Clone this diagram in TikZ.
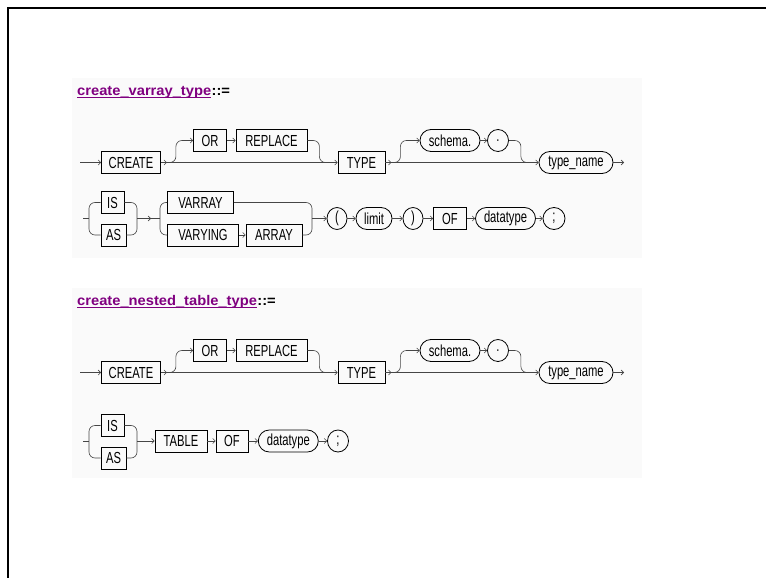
\documentclass[tikz,border=0pt]{standalone}
\usepackage{fontspec}
\usepackage{tikz}
\usetikzlibrary{arrows.meta,shapes.misc,shapes.geometric}
\newfontfamily\railfont[FakeStretch=0.7]{Liberation Sans}
\newfontfamily\headfont[FakeStretch=1.05]{Liberation Sans}
\definecolor{linkpurple}{RGB}{128,0,128}
\definecolor{railgray}{RGB}{70,70,70}

\begin{document}
\begin{tikzpicture}[
      x=1pt, y=-1pt,
      kw/.style={draw, rectangle, line width=0.8pt, minimum height=22pt, inner sep=0pt,
        font=\railfont\fontsize{16}{16}\selectfont},
      nt/.style={draw, rounded rectangle, line width=0.8pt, minimum height=22pt, inner sep=0pt,
        font=\railfont\fontsize{16}{16}\selectfont},
      tk/.style={draw, ellipse, line width=0.8pt, minimum height=22pt, inner sep=0pt,
        font=\railfont\fontsize{16}{16}\selectfont},
      rail/.style={draw=railgray, line width=0.6pt, rounded corners=6pt},
      arr/.style={-{Straight Barb[length=2.5pt,width=5pt]}},
      head/.style={anchor=base west, inner sep=0pt, font=\headfont\fontsize{14}{14}\bfseries}
    ]
      \useasboundingbox (0,0) rectangle (766,578);
      % page frame and shaded diagram areas
      \draw[line width=2.4pt] (8,578) -- (8,8) -- (766,8);
      \fill[black!2] (72,78) rectangle (642,258);
      \fill[black!2] (72,288) rectangle (642,478);

      % ---- create_varray_type ----
      \node[head, text=linkpurple] (vtitle) at (77,95.5) {create\_varray\_type};
      \node[head] (vdef) at (vtitle.base east) {::=};
      \draw[linkpurple, line width=0.8pt] ([yshift=-2pt]vtitle.base west) -- ([yshift=-2pt]vtitle.base east);

      % first line
      \coordinate (v1in) at (80,162.5);
      \coordinate (v1out) at (624,162.5);
      \node[kw, minimum width=59pt] (vcreate) at (131,162.5) {CREATE};
      \node[kw, minimum width=33pt] (vor) at (210,140.5) {OR};
      \node[kw, minimum width=71pt] (vreplace) at (271.5,140.5) {REPLACE};
      \node[kw, minimum width=47pt] (vtype) at (361.5,162.5) {TYPE};
      \node[nt, minimum width=60pt] (vschema) at (450,140.5) {schema.};
      \node[tk, minimum width=21pt] (vdot) at (498,140.5) {.};
      \node[nt, minimum width=74pt] (vname) at (576,162.5) {type\_name};

      \draw[rail, arr] (v1in) -- (vcreate.west);
      \draw[rail, arr] (vcreate.east) -- (vtype.west);
      \draw[rail, arr] (vcreate.east) -- ++(6pt,0);
      \draw[rail, arr] ([xshift=6pt]vcreate.east) -- ++(9pt,0) |- (vor.west);
      \draw[rail, arr] (vor.east) -- (vreplace.west);
      \draw[rail] (vreplace.east) -- ++(12pt,0) |- ([xshift=-3pt]vtype.west);
      \draw[rail, arr] (vtype.east) -- (vname.west);
      \draw[rail, arr] (vtype.east) -- ++(6pt,0);
      \draw[rail, arr] ([xshift=6pt]vtype.east) -- ++(9pt,0) |- (vschema.west);
      \draw[rail, arr] (vschema.east) -- (vdot.west);
      \draw[rail] (vdot.east) -- ++(12pt,0) |- ([xshift=-3pt]vname.west);
      \draw[rail, arr] (vname.east) -- (v1out);

      % second line
      \coordinate (v2in) at (83,218.5);
      \coordinate (v2fa) at (89,218.5);
      \coordinate (v2ma) at (137,218.5);
      \coordinate (v2fb) at (160,218.5);
      \coordinate (v2mb) at (312,218.5);
      \node[kw, minimum width=23pt] (vis) at (112.5,202.5) {IS};
      \node[kw, minimum width=25pt] (vas) at (113.5,235) {AS};
      \node[kw, minimum width=66pt] (vvarray) at (200.5,202.5) {VARRAY};
      \node[kw, minimum width=71pt] (vvarying) at (203,235) {VARYING};
      \node[kw, minimum width=56pt] (varray) at (274,235) {ARRAY};
      \node[tk, minimum width=20pt] (vlpar) at (337,218.5) {(};
      \node[nt, minimum width=36pt] (vlimit) at (374,218.5) {limit};
      \node[tk, minimum width=20pt] (vrpar) at (413,218.5) {)};
      \node[kw, minimum width=33pt] (vof) at (450,218.5) {OF};
      \node[nt, minimum width=60pt] (vdtype) at (505.5,218.5) {datatype};
      \node[tk, minimum width=22pt] (vsemi) at (554,218.5) {;};

      \draw[rail] (v2in) -- (v2fa);
      \draw[rail] (vis.west) -| (v2fa) |- (vas.west);
      \draw[rail] (vis.east) -| (v2ma) |- (vas.east);
      \draw[rail] (v2ma) -- (v2fb);
      \draw[rail, arr] (v2ma) -- ++(14pt,0);
      \draw[rail] (vvarray.west) -| (v2fb) |- (vvarying.west);
      \draw[rail, arr] (vvarying.east) -- (varray.west);
      \draw[rail] (vvarray.east) -| (v2mb) |- (varray.east);
      \draw[rail, arr] (v2mb) -- (vlpar.west);
      \draw[rail, arr] (vlpar.east) -- (vlimit.west);
      \draw[rail, arr] (vlimit.east) -- (vrpar.west);
      \draw[rail, arr] (vrpar.east) -- (vof.west);
      \draw[rail, arr] (vof.east) -- (vdtype.west);
      \draw[rail, arr] (vdtype.east) -- (vsemi.west);

      % ---- create_nested_table_type ----
      \node[head, text=linkpurple] (ntitle) at (77,305.5) {create\_nested\_table\_type};
      \node[head] (ndef) at (ntitle.base east) {::=};
      \draw[linkpurple, line width=0.8pt] ([yshift=-2pt]ntitle.base west) -- ([yshift=-2pt]ntitle.base east);

      % first line
      \coordinate (n1in) at (80,372.5);
      \coordinate (n1out) at (624,372.5);
      \node[kw, minimum width=59pt] (ncreate) at (131,372.5) {CREATE};
      \node[kw, minimum width=33pt] (nor) at (210,350.5) {OR};
      \node[kw, minimum width=71pt] (nreplace) at (271.5,350.5) {REPLACE};
      \node[kw, minimum width=47pt] (ntype) at (361.5,372.5) {TYPE};
      \node[nt, minimum width=60pt] (nschema) at (450,350.5) {schema.};
      \node[tk, minimum width=21pt] (ndot) at (498,350.5) {.};
      \node[nt, minimum width=74pt] (nname) at (576,372.5) {type\_name};

      \draw[rail, arr] (n1in) -- (ncreate.west);
      \draw[rail, arr] (ncreate.east) -- (ntype.west);
      \draw[rail, arr] (ncreate.east) -- ++(6pt,0);
      \draw[rail, arr] ([xshift=6pt]ncreate.east) -- ++(9pt,0) |- (nor.west);
      \draw[rail, arr] (nor.east) -- (nreplace.west);
      \draw[rail] (nreplace.east) -- ++(12pt,0) |- ([xshift=-3pt]ntype.west);
      \draw[rail, arr] (ntype.east) -- (nname.west);
      \draw[rail, arr] (ntype.east) -- ++(6pt,0);
      \draw[rail, arr] ([xshift=6pt]ntype.east) -- ++(9pt,0) |- (nschema.west);
      \draw[rail, arr] (nschema.east) -- (ndot.west);
      \draw[rail] (ndot.east) -- ++(12pt,0) |- ([xshift=-3pt]nname.west);
      \draw[rail, arr] (nname.east) -- (n1out);

      % second line
      \coordinate (n2in) at (83,441);
      \coordinate (n2fa) at (89,441);
      \coordinate (n2ma) at (137,441);
      \node[kw, minimum width=23pt] (nis) at (112.5,425.5) {IS};
      \node[kw, minimum width=25pt] (nas) at (113.5,458) {AS};
      \node[kw, minimum width=52pt] (ntable) at (181,441) {TABLE};
      \node[kw, minimum width=32pt] (nof) at (232,441) {OF};
      \node[nt, minimum width=60pt] (ndtype) at (288.3,441) {datatype};
      \node[tk, minimum width=21pt] (nsemi) at (338,441) {;};

      \draw[rail] (n2in) -- (n2fa);
      \draw[rail] (nis.west) -| (n2fa) |- (nas.west);
      \draw[rail] (nis.east) -| (n2ma) |- (nas.east);
      \draw[rail, arr] (n2ma) -- (ntable.west);
      \draw[rail, arr] (ntable.east) -- (nof.west);
      \draw[rail, arr] (nof.east) -- (ndtype.west);
      \draw[rail, arr] (ndtype.east) -- (nsemi.west);
    \end{tikzpicture}
\end{document}
